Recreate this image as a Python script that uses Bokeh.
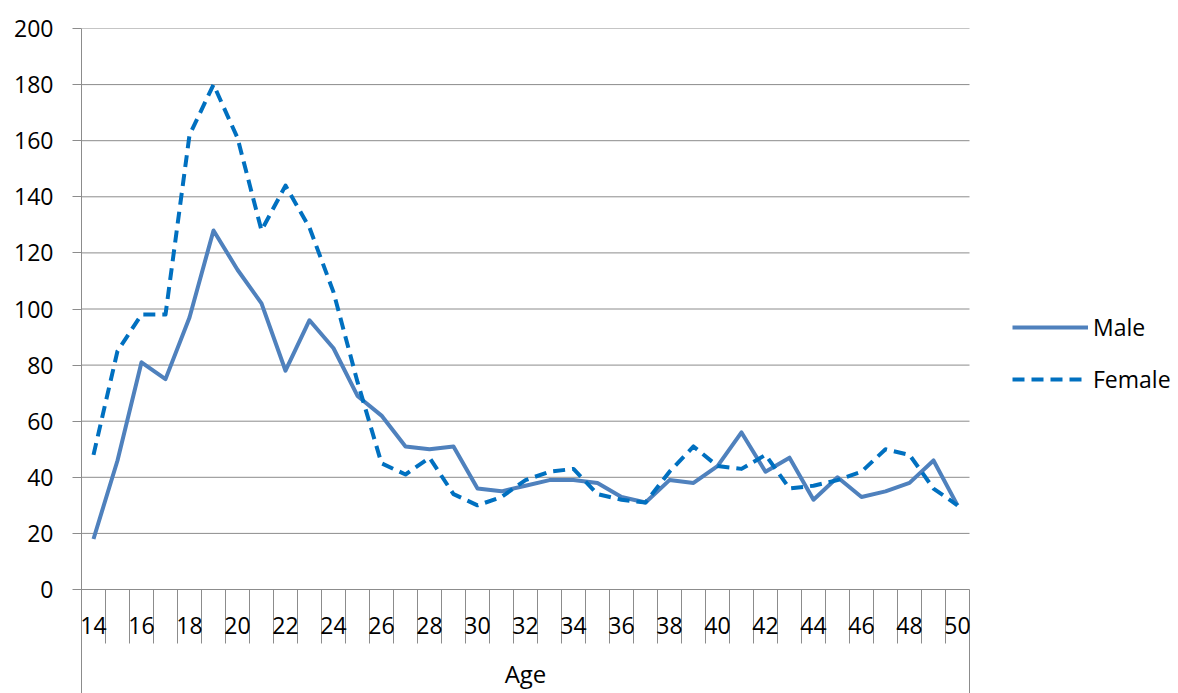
from bokeh.plotting import figure
from bokeh.models import Range1d, FixedTicker, Legend, LegendItem
from bokeh.core.properties import value
from bokeh.embed import file_html
from bokeh.resources import INLINE

# ---- data ----
ages = list(range(14, 51))
male = [18, 46, 81, 75, 97, 128, 114, 102, 78, 96, 86, 69, 62, 51, 50, 51, 36, 35, 37,
        39, 39, 38, 33, 31, 39, 38, 44, 56, 42, 47, 32, 40, 33, 35, 38, 46, 30]
female = [48, 85, 98, 98, 162, 180, 161, 128, 144, 129, 106, 74, 45, 41, 47, 34, 30, 33, 39,
          42, 43, 34, 32, 31, 42, 51, 44, 43, 48, 36, 37, 39, 42, 50, 48, 36, 30]
y_ticks = [0, 20, 40, 60, 80, 100, 120, 140, 160, 180, 200]
x_tick_ages = [14, 16, 18, 20, 22, 24, 26, 28, 30, 32, 34, 36, 38, 40, 42, 44, 46, 48, 50]
x_tick_labels = ["14", "16", "18", "20", "22", "24", "26", "28", "30", "32", "34", "36",
                 "38", "40", "42", "44", "46", "48", "50"]
series_names = ["Male", "Female"]
x_title = "Age"

# ---- style ----
FONT = "Open Sans"
FS = "23px"
GRID = "#8c8c8c"
MALE_C = "#4F81BD"
FEMALE_C = "#0070C0"

W, H = 1178, 693
LEFT, TOP = 81, 28
ZERO_Y = 589
px_per_unit = (ZERO_Y - TOP) / 200.0
px_per_cat = 24.0

y_bottom = -(H - ZERO_Y) / px_per_unit
tick_len = -(643 - ZERO_Y) / px_per_unit
label_y = -(625 - ZERO_Y) / px_per_unit
title_y = -(673 - ZERO_Y) / px_per_unit

x_start = ages[0] - 0.5
x_end = ages[-1] + 0.5
x_frame_end = x_start + (W - LEFT) / px_per_cat

p = figure(width=W, height=H, output_backend="svg", toolbar_location=None,
           x_range=Range1d(x_start, x_frame_end), y_range=Range1d(y_bottom, 200),
           x_axis_location=None,
           min_border_left=LEFT, min_border_right=0, min_border_top=TOP, min_border_bottom=0)
p.outline_line_color = None
p.background_fill_color = "white"
p.border_fill_color = "white"
p.xgrid.visible = False
p.ygrid.visible = False

yax = p.yaxis[0]
yax.ticker = FixedTicker(ticks=y_ticks, minor_ticks=[])
yax.axis_line_color = GRID
yax.major_tick_line_color = GRID
yax.major_tick_out = 9
yax.major_tick_in = 0
yax.minor_tick_out = 0
yax.minor_tick_in = 0
yax.major_label_standoff = 19
yax.major_label_text_font = FONT
yax.major_label_text_font_size = FS
yax.major_label_text_color = "black"

# horizontal gridlines across the plot area only
p.segment(x0=[x_start] * len(y_ticks), y0=y_ticks, x1=[x_end] * len(y_ticks), y1=y_ticks,
          line_color=GRID, line_width=1)

# category separators (tick marks between categories)
bounds = [a - 0.5 for a in ages] + [ages[-1] + 0.5]
inner = bounds[1:-1]
p.segment(x0=inner, y0=[0] * len(inner), x1=inner, y1=[tick_len] * len(inner),
          line_color=GRID, line_width=1)
p.segment(x0=[bounds[-1]], y0=[0], x1=[bounds[-1]], y1=[y_bottom],
          line_color=GRID, line_width=1)

# category labels
p.text(x=x_tick_ages, y=[label_y] * len(x_tick_ages), text=x_tick_labels,
       text_align="center", text_baseline="middle",
       text_font=value(FONT), text_font_size=FS, text_color="black")
p.text(x=[(x_start + x_end) / 2.0], y=[title_y], text=[x_title],
       text_align="center", text_baseline="middle",
       text_font=value(FONT), text_font_size="24px", text_color="black")

r_m = p.line(ages, male, line_color=MALE_C, line_width=4, line_join="round")
r_f = p.line(ages, female, line_color=FEMALE_C, line_width=4, line_dash="12 7",
             line_join="round")

legend = Legend(items=[LegendItem(label=series_names[0], renderers=[r_m]),
                       LegendItem(label=series_names[1], renderers=[r_f])],
                location=(1012 - LEFT, H - 395), glyph_width=76, glyph_height=32,
                label_height=32, spacing=20, padding=0, margin=0, border_line_color=None,
                background_fill_alpha=0, label_standoff=5,
                label_text_font=FONT, label_text_font_size=FS, label_text_color="black")
p.add_layout(legend, "center")

open("out.html", "w").write(file_html(p, INLINE))
